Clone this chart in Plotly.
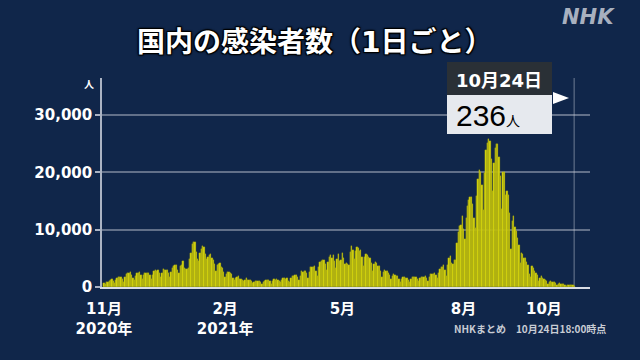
import pandas as pd
import plotly.graph_objects as go

# ---- data (daily new cases) ----
start_date = "2020-11-01"
nov20 = [613, 487, 858, 891, 1046, 1139, 1331, 1000, 775, 1278, 1543, 1660, 1704, 1737, 1439,
         949, 1699, 2201, 2388, 2424, 2596, 2168, 1518, 1228, 1939, 2501, 2508, 2684, 2067, 1432]
dec20 = [2031, 2433, 2507, 2437, 2508, 2029, 1474, 2025, 2811, 2973, 2790, 3041, 2386, 1693, 2423,
         3211, 3033, 2996, 2996, 2491, 1795, 2623, 3271, 3740, 3832, 3881, 2947, 2395, 3603, 3852, 4520]
jan21 = [3244, 3059, 3157, 3330, 4915, 6001, 7570, 7882, 7790, 6094, 4875, 4540, 5876, 6605, 7133,
         7014, 5759, 4925, 5320, 5654, 5703, 5045, 4713, 3990, 2764, 3854, 3962, 4132, 3538, 3343, 2673]
feb21 = [1792, 2324, 2631, 2576, 2367, 2283, 1605, 1218, 1568, 1711, 1879, 1359, 1360, 1177, 1023,
         1308, 1528, 1240, 1298, 1234, 1057, 734, 874, 1080, 1054, 1082, 1020, 939]
mar21 = [553, 961, 1094, 1160, 1156, 1181, 1057, 601, 1125, 1316, 1285, 1319, 1258, 1032, 798,
         1170, 1508, 1514, 1471, 1487, 1118, 816, 1517, 1918, 2005, 2061, 2082, 1786, 1195, 1998, 2842]
apr21 = [2599, 2760, 2772, 2469, 1572, 2645, 3447, 3449, 3451, 3697, 2776, 1952, 3461, 4300, 4532,
         4803, 4802, 4093, 2885, 4326, 5291, 5517, 5119, 5605, 4607, 3314, 4884, 5791, 4599, 4680]
may21 = [5979, 5032, 4046, 4136, 4051, 3894, 6054, 7244, 6478, 4897, 6242, 7057, 6872, 6265, 6415,
         5262, 3677, 5229, 5711, 5566, 5230, 4982, 4166, 2771, 4089, 4325, 4126, 3680, 3584, 2813, 1786]
jun21 = [2641, 2904, 2791, 2716, 2530, 2067, 1365, 1987, 2328, 2118, 1944, 1943, 1383, 957, 1459,
         1716, 1662, 1577, 1605, 1310, 878, 1418, 1777, 1763, 1701, 1672, 1468, 1051, 1535, 1832]
jul21 = [1754, 1764, 1878, 1641, 1037, 1702, 2189, 2248, 2234, 2444, 2096, 1496, 2385, 3194, 3426,
         3428, 3877, 2985, 1901, 3758, 5024, 5393, 4225, 4058, 4692, 4730, 7629, 9575, 10699, 10744, 12341]
aug21 = [10168, 8392, 12016, 14207, 15263, 15753, 15747, 14472, 12094, 10352, 15812, 18889, 20365, 20151, 17832,
         13486, 19950, 23917, 25156, 25876, 25492, 22269, 16829, 21573, 24319, 24956, 24936, 22748, 19300, 13636, 20016]
sep21 = [20030, 16000, 16753, 16080, 13000, 6700, 11500, 12400, 10400, 9800, 8600, 7300, 4200, 6000, 5800,
         5100, 5000, 4300, 3800, 2200, 1700, 3600, 3400, 2800, 2400, 2100, 1100, 1600, 2000, 1600]
oct21 = [1400, 1300, 1100, 600, 900, 1100, 900, 800, 800, 700, 400, 600, 700, 600, 600,
         500, 430, 250, 400, 390, 350, 330, 290, 236]

tick_dates = ["2020-11-01", "2021-02-01", "2021-05-01", "2021-08-01", "2021-10-01"]
tick_text = ["11月<br>2020年", "2月<br>2021年", "5月", "8月", "10月"]
y_ticks = [0, 10000, 20000, 30000]
y_tick_text = ["0", "10,000", "20,000", "30,000"]

values = nov20 + dec20 + jan21 + feb21 + mar21 + apr21 + may21 + jun21 + jul21 + aug21 + sep21 + oct21
dates = pd.date_range(start_date, periods=len(values), freq="D")
last_date = dates[-1]
last_val = values[-1]

BG = "#10264a"
NUMFONT = "DejaVu Sans, Noto Sans CJK JP"
FONT = "Noto Sans CJK JP"

fig = go.Figure()
fig.add_trace(go.Bar(
    x=dates, y=values,
    marker=dict(color="#d6d60e", line=dict(color="#9c9c12", width=0.3)),
    hoverinfo="skip",
))

# plot area in pixels: left 102, right 590, top 78, bottom 287
L, R, T, B = 102, 590, 78, 287
W, H = 640, 360
def px(x):
    return (x - L) / (R - L)
def py(y):
    return (B - y) / (B - T)

x0 = pd.Timestamp(start_date) - pd.Timedelta(hours=36)
x1 = pd.Timestamp(start_date) + pd.Timedelta(days=369)

fig.update_layout(
    width=W, height=H,
    margin=dict(l=L, r=W - R, t=T, b=H - B),
    paper_bgcolor=BG, plot_bgcolor=BG,
    bargap=0,
    showlegend=False,
    font=dict(family=FONT, color="white"),
    xaxis=dict(
        type="date", range=[x0, x1],
        tickvals=tick_dates, ticktext=tick_text,
        tickfont=dict(size=15, color="white", weight="bold", family=NUMFONT),
        ticklabelstandoff=7,
        showgrid=False, showline=True, linecolor="#d8dce4", linewidth=2,
        ticks="", zeroline=False,
    ),
    yaxis=dict(
        range=[0, 36500],
        tickvals=y_ticks, ticktext=y_tick_text,
        tickfont=dict(size=15, color="white", weight="bold", family=NUMFONT),
        showgrid=True, gridcolor="rgba(200,205,215,0.45)", gridwidth=1.5,
        showline=True, linecolor="rgba(210,215,225,0.8)", linewidth=1.5,
        ticks="outside", ticklen=5, tickcolor="rgba(210,215,225,0.8)", tickwidth=1.5,
        zeroline=False,
    ),
)

# vertical marker at latest date
fig.add_shape(type="line", xref="x", yref="paper", x0=last_date, x1=last_date, y0=0, y1=1,
              line=dict(color="rgba(200,205,215,0.35)", width=1.5), layer="below")

# callout box
fig.add_shape(type="rect", xref="paper", yref="paper",
              x0=px(447), x1=px(552), y0=py(95), y1=py(62),
              fillcolor="#2a3036", line=dict(width=0))
fig.add_shape(type="rect", xref="paper", yref="paper",
              x0=px(447), x1=px(552), y0=py(134), y1=py(95),
              fillcolor="#e6e9ee", line=dict(width=0))
fig.add_shape(type="path", xref="paper", yref="paper",
              path=f"M {px(553)} {py(92)} L {px(569)} {py(98)} L {px(553)} {py(104)} Z",
              fillcolor="white", line=dict(width=0))

outline = "1px 1px 1px #000, -1px -1px 1px #000, 1px -1px 1px #000, -1px 1px 1px #000, 0 0 3px #000"

annotations = [
    dict(text="国内の感染者数（1日ごと）", x=px(314), y=py(43), xref="paper", yref="paper",
         xanchor="center", yanchor="middle", showarrow=False,
         font=dict(size=28, color="white", family=NUMFONT, weight="bold", shadow=outline)),
    dict(text="<i>NHK</i>", x=px(588), y=py(17), xref="paper", yref="paper",
         xanchor="center", yanchor="middle", showarrow=False,
         font=dict(size=21, color="#a8b0bf", family="DejaVu Sans", weight="bold")),
    dict(text="人", x=px(89), y=py(83), xref="paper", yref="paper",
         xanchor="center", yanchor="middle", showarrow=False,
         font=dict(size=10, color="white", weight="bold")),
    dict(text=f"{last_date.month}月{last_date.day}日", x=px(499), y=py(80), xref="paper", yref="paper",
         xanchor="center", yanchor="middle", showarrow=False,
         font=dict(size=18, color="white", weight="bold", family=NUMFONT)),
    dict(text=f"{last_val}<span style='font-size:14px'>人</span>", x=px(454), y=py(115),
         xref="paper", yref="paper", xanchor="left", yanchor="middle", showarrow=False,
         font=dict(size=30, color="black", family="Liberation Sans, Noto Sans CJK JP")),
    dict(text=f"NHKまとめ　{last_date.month}月{last_date.day}日18:00時点", x=px(608), y=py(328),
         xref="paper", yref="paper", xanchor="right", yanchor="middle", showarrow=False,
         font=dict(size=10, color="#c8ccd4", weight="bold")),
]
fig.update_layout(annotations=annotations)

fig.write_html("out.html", config={"displayModeBar": False},
               post_script="document.body.style.margin='0';")
